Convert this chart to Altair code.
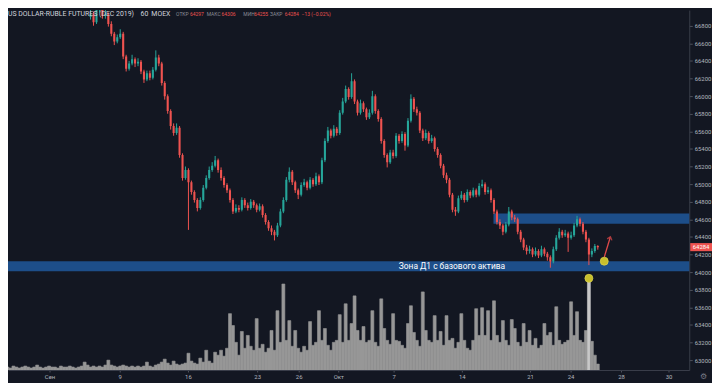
import json
import altair as alt
import pandas as pd

BG = "#131722"
UP = "#26a69a"
DOWN = "#ef5350"
ZONE = "#1d4e89"
TXT = "#b2b5be"
FONT = "Roboto"

# ---- hourly-ish candles (bar index, ~3px per bar) ----
FIRST = 30
FIRST_OPEN = 66900
close = [
    66930, 66840, 66980, 67010, 66910, 66930, 66820, 66710, 66620, 66670,
    66710, 66450, 66310, 66370, 66420, 66370, 66390, 66280, 66190, 66260,
    66210, 66300, 66440, 66370, 66150, 66000, 65830, 65660, 65580, 65640,
    65330, 65070, 65160, 65020, 64910, 64820, 64730, 64820, 64960, 65070,
    65160, 65210, 65270, 65160, 65070, 64990, 64930, 64820, 64690, 64730,
    64710, 64820, 64760, 64730, 64800, 64760, 64710, 64750, 64650, 64570,
    64500, 64460, 64420, 64530, 64690, 64820, 65050, 65140, 65020, 64930,
    64880, 64990, 65020, 64960, 65050, 65000, 65090, 65020, 65270, 65490,
    65610, 65550, 65630, 65580, 65810, 65940, 66080, 65990, 66170, 65940,
    65810, 65920, 65850, 65760, 65810, 66000, 65830, 65740, 65490, 65330,
    65250, 65360, 65320, 65550, 65490, 65570, 65440, 65720, 65970, 65850,
    65810, 65610, 65520, 65580, 65490, 65520, 65400, 65330, 65210, 65100,
    65050, 64880, 64710, 64690, 64840, 64880, 64820, 64910, 64870, 64930,
    64880, 64980, 65000, 64910, 64930, 64820, 64690, 64570, 64530, 64460,
    64540, 64690, 64620, 64600, 64460, 64370, 64280, 64240, 64260, 64200,
    64240, 64190, 64260, 64210, 64170, 64120, 64260, 64390, 64460, 64420,
    64440, 64390, 64420, 64530, 64600, 64550, 64460, 64370, 64200, 64240,
    64297, 64284,
]
high = [
    66990, 66960, 67030, 67060, 67040, 66980, 66950, 66850, 66730, 66700,
    66760, 66730, 66470, 66400, 66470, 66440, 66430, 66410, 66300, 66290,
    66290, 66330, 66520, 66470, 66390, 66170, 66020, 65850, 65690, 65690,
    65660, 65350, 65200, 65180, 65040, 64930, 64840, 64850, 64990, 65100,
    65200, 65250, 65320, 65290, 65190, 65090, 65010, 64950, 64840, 64770,
    64760, 64850, 64840, 64790, 64830, 64820, 64780, 64780, 64770, 64670,
    64590, 64530, 64480, 64560, 64720, 64850, 65080, 65190, 65160, 65040,
    64950, 65020, 65060, 65040, 65080, 65070, 65130, 65110, 65300, 65520,
    65650, 65630, 65670, 65650, 65840, 65980, 66120, 66100, 66260, 66190,
    65960, 65960, 65940, 65870, 65850, 66060, 66020, 65850, 65760, 65510,
    65350, 65390, 65390, 65580, 65570, 65600, 65590, 65750, 66020, 65990,
    65880, 65830, 65630, 65620, 65600, 65560, 65540, 65420, 65350, 65230,
    65130, 65070, 64900, 64740, 64870, 64920, 64900, 64940, 64930, 64960,
    64950, 65010, 65050, 65020, 64970, 64950, 64840, 64710, 64600, 64550,
    64570, 64740, 64710, 64650, 64620, 64480, 64390, 64310, 64300, 64280,
    64280, 64260, 64300, 64280, 64230, 64190, 64290, 64420, 64500, 64480,
    64480, 64460, 64460, 64560, 64640, 64620, 64570, 64480, 64390, 64270,
    64320, 64306,
]
low = [
    66870, 66800, 66820, 66950, 66880, 66880, 66790, 66680, 66580, 66600,
    66650, 66420, 66280, 66290, 66350, 66330, 66340, 66250, 66150, 66170,
    66180, 66190, 66280, 66340, 66120, 65960, 65800, 65620, 65550, 65560,
    65300, 65040, 65050, 64480, 64880, 64790, 64690, 64710, 64800, 64940,
    65050, 65140, 65190, 65130, 65040, 64960, 64900, 64790, 64660, 64670,
    64680, 64690, 64730, 64700, 64710, 64730, 64680, 64690, 64620, 64540,
    64470, 64420, 64360, 64400, 64510, 64670, 64800, 65020, 64990, 64900,
    64830, 64860, 64970, 64930, 64940, 64970, 64980, 64990, 65000, 65250,
    65470, 65520, 65530, 65550, 65560, 65790, 65920, 65960, 65970, 65910,
    65780, 65790, 65820, 65730, 65740, 65790, 65800, 65710, 65460, 65300,
    65190, 65230, 65290, 65300, 65460, 65470, 65380, 65420, 65700, 65820,
    65780, 65580, 65490, 65500, 65460, 65470, 65370, 65300, 65180, 65070,
    65010, 64850, 64680, 64640, 64670, 64820, 64790, 64800, 64840, 64850,
    64850, 64860, 64960, 64880, 64890, 64790, 64660, 64540, 64490, 64420,
    64440, 64520, 64590, 64570, 64430, 64340, 64250, 64200, 64210, 64170,
    64180, 64160, 64170, 64180, 64130, 64050, 64100, 64240, 64370, 64390,
    64400, 64230, 64370, 64400, 64510, 64520, 64430, 64340, 64080, 64170,
    64220, 64255,
]
# volume per bar, starting at bar 0
volume = [
    3, 2, 3, 2, 4, 3, 2, 3, 4, 3,
    2, 3, 5, 3, 2, 3, 4, 3, 3, 2,
    4, 3, 3, 4, 3, 2, 3, 4, 8, 5,
    3, 4, 3, 4, 3, 5, 10, 5, 4, 3,
    4, 5, 4, 3, 4, 3, 4, 3, 4, 8,
    4, 3, 5, 6, 8, 11, 7, 5, 9, 6,
    5, 6, 7, 17, 9, 7, 6, 12, 8, 20,
    9, 7, 18, 15, 20, 14, 22, 57, 45, 28,
    15, 39, 22, 35, 24, 20, 52, 22, 26, 18,
    22, 40, 20, 60, 28, 87, 30, 50, 24, 40,
    22, 18, 24, 20, 49, 25, 28, 60, 30, 42,
    25, 20, 28, 30, 56, 28, 67, 30, 47, 75,
    40, 30, 44, 28, 30, 60, 28, 24, 72, 42,
    30, 26, 57, 30, 29, 25, 22, 47, 65, 38,
    30, 24, 79, 40, 30, 28, 55, 30, 39, 25,
    55, 30, 32, 22, 28, 57, 30, 22, 20, 30,
    62, 35, 63, 35, 60, 30, 70, 35, 28, 50,
    30, 25, 51, 42, 28, 24, 47, 28, 40, 25,
    32, 22, 25, 47, 35, 38, 25, 64, 30, 26,
    28, 30, 69, 35, 59, 30, 28, 40, 92, 29,
    15, 6,
]
SPIKE_BAR = 198

tick_pos = [16.67, 40.33, 63.33, 86.67, 100.67, 114.0, 132.67, 155.67,
            178.67, 192.33, 209.33, 225.33]
tick_labels = ["Сен", "9", "16", "23", "26", "Окт", "7", "14", "21", "24", "28", "30"]
price_ticks = list(range(63000, 67001, 200))

zones = [
    {"x1": 166.33, "x2": 240.0, "lo": 64550, "hi": 64665},
    {"x1": 0.0, "x2": 240.0, "lo": 64010, "hi": 64125},
]
zone_label = [{"x": 152.33, "y": 64067, "t": "Зона Д1 с базового актива"}]
dots = [{"x": 203.67, "y": 64124}, {"x": 198.5, "y": 63930}]
arrow = [{"x": 203.67, "y": 64169, "x2": 205.67, "y2": 64393}]
last_price = 64284

header_title = [
    {"t": "US DOLLAR-RUBLE FUTURES (DEC 2019)", "px": 0},
    {"t": "60", "px": 134},
    {"t": "MOEX", "px": 145},
]
header_ohlc = [
    {"t": "ОТКР", "px": 170, "c": "#8a8d96"},
    {"t": "64297", "px": 184, "c": DOWN},
    {"t": "МАКС", "px": 201, "c": "#8a8d96"},
    {"t": "64306", "px": 216, "c": DOWN},
    {"t": "МИН", "px": 238, "c": "#8a8d96"},
    {"t": "64255", "px": 249, "c": DOWN},
    {"t": "ЗАКР", "px": 265, "c": "#8a8d96"},
    {"t": "64284", "px": 280, "c": DOWN},
    {"t": "−13 (−0.02%)", "px": 297, "c": DOWN},
]

XDOM = [8 / 3, 697 / 3]
YDOM = [62887.6, 66977.5]
W, H = 689, 364

n = len(close)
opens = [FIRST_OPEN] + close[:-1]
cdf = pd.DataFrame({"i": list(range(FIRST, FIRST + n)), "open": opens,
                    "close": close, "high": high, "low": low})
vdf = pd.DataFrame({"i": list(range(len(volume))), "v": volume})

xs = alt.Scale(domain=XDOM, nice=False, zero=False)
ys = alt.Scale(domain=YDOM, nice=False, zero=False)

label_expr = "{}[indexof({}, datum.value)]".format(
    json.dumps(tick_labels, ensure_ascii=False), json.dumps(tick_pos))
xaxis = alt.Axis(values=tick_pos, labelExpr=label_expr, labelFontSize=6,
                 labelColor=TXT, labelFont=FONT, tickSize=2, tickColor="#50535e",
                 domainColor="#3a3e4a", grid=False, labelPadding=2, title=None,
                 labelOverlap=False, labelFlush=False)
yaxis = alt.Axis(orient="right", values=price_ticks, format="d", labelFontSize=6,
                 labelColor=TXT, labelFont=FONT, tickSize=3, tickColor="#50535e",
                 domainColor="#3a3e4a", grid=False, labelPadding=2, title=None,
                 labelOverlap=False, labelFlush=False)

color_cond = alt.condition("datum.close >= datum.open", alt.value(UP), alt.value(DOWN))
vol_color = alt.condition(f"datum.i == {SPIKE_BAR}", alt.value("#c8c8c8"), alt.value("#979797"))

vol = alt.Chart(vdf).mark_rect(clip=True, strokeWidth=0.6).encode(
    x=alt.X("i:Q", scale=xs, axis=xaxis),
    x2="i2:Q",
    y=alt.Y("v:Q", scale=alt.Scale(domain=[0, H], nice=False, zero=True), axis=None),
    y2="z:Q",
    color=vol_color,
    stroke=vol_color,
).transform_calculate(i2="datum.i + 1", z="0")

zone_layer = alt.Chart(pd.DataFrame(zones)).mark_rect(clip=True, color=ZONE).encode(
    x=alt.X("x1:Q", scale=xs, axis=xaxis), x2="x2:Q",
    y=alt.Y("lo:Q", scale=ys, axis=yaxis), y2="hi:Q",
)

wicks = alt.Chart(cdf).mark_rule(strokeWidth=1, clip=True).encode(
    x=alt.X("xc:Q", scale=xs, axis=xaxis),
    y=alt.Y("low:Q", scale=ys, axis=yaxis), y2="high:Q",
    color=color_cond,
).transform_calculate(xc="datum.i + 0.5")

bodies = alt.Chart(cdf).mark_bar(clip=True).encode(
    x=alt.X("xl:Q", scale=xs, axis=xaxis), x2="xr:Q",
    y=alt.Y("open:Q", scale=ys, axis=yaxis), y2="close:Q",
    color=color_cond,
).transform_calculate(xl="datum.i + 0.15", xr="datum.i + 0.85")

zlabel = alt.Chart(pd.DataFrame(zone_label)).mark_text(
    color="#ffffff", fontSize=8.5, font=FONT, align="center", baseline="middle"
).encode(x=alt.X("x:Q", scale=xs, axis=xaxis), y=alt.Y("y:Q", scale=ys, axis=yaxis), text="t:N")

arrow_line = alt.Chart(pd.DataFrame(arrow)).mark_rule(color="#e0494a", strokeWidth=1.3).encode(
    x=alt.X("x:Q", scale=xs, axis=xaxis), x2="x2:Q",
    y=alt.Y("y:Q", scale=ys, axis=yaxis), y2="y2:Q",
)
arrow_head = alt.Chart(pd.DataFrame(arrow)).mark_point(
    shape="M-0.8,0.7L0,-0.3L0.8,0.7", filled=False, color="#e0494a",
    strokeWidth=1.3, size=40, angle=17,
).encode(x=alt.X("x2:Q", scale=xs, axis=xaxis), y=alt.Y("y2:Q", scale=ys, axis=yaxis))

dot_layer = alt.Chart(pd.DataFrame(dots)).mark_point(
    filled=True, color="#c8bf2c", size=65, opacity=1, stroke="#d9d04a", strokeWidth=0.8
).encode(x=alt.X("x:Q", scale=xs, axis=xaxis), y=alt.Y("y:Q", scale=ys, axis=yaxis))

tag_df = pd.DataFrame([{"p": last_price, "top": last_price + 46, "bot": last_price - 46,
                        "t": str(last_price)}])
tag_rect = alt.Chart(tag_df).mark_rect(color=DOWN).encode(
    x=alt.value(W + 1), x2=alt.value(W + 23),
    y=alt.Y("top:Q", scale=ys, axis=yaxis), y2="bot:Q",
)
tag_text = alt.Chart(tag_df).mark_text(color="#ffffff", fontSize=6, font=FONT,
                                       align="center", baseline="middle").encode(
    x=alt.value(W + 12), y=alt.Y("p:Q", scale=ys, axis=yaxis), text="t:N")

head1 = alt.Chart(pd.DataFrame(header_title)).mark_text(
    align="left", baseline="middle", fontSize=7, font=FONT, color="#d1d4dc"
).encode(x=alt.X("px:Q", scale=None), y=alt.value(4), text="t:N")

head2 = alt.Chart(pd.DataFrame(header_ohlc)).mark_text(
    align="left", baseline="middle", fontSize=5, font=FONT
).encode(x=alt.X("px:Q", scale=None), y=alt.value(4), text="t:N",
         color=alt.Color("c:N", scale=None))

gear = alt.Chart(pd.DataFrame([{"t": "⚙"}])).mark_text(
    color="#787b86", fontSize=8, align="center", baseline="middle"
).encode(x=alt.value(W + 14), y=alt.value(H + 7), text="t:N")

price_layers = alt.layer(zone_layer, wicks, bodies, zlabel, arrow_line, arrow_head,
                         dot_layer, tag_rect, tag_text, head1, head2, gear)

chart = alt.layer(vol, price_layers).resolve_scale(y="independent").properties(
    width=W, height=H, background=BG, padding=0
).configure_view(strokeWidth=0)

chart.save("out.html", embed_options={"renderer": "svg", "actions": False})
